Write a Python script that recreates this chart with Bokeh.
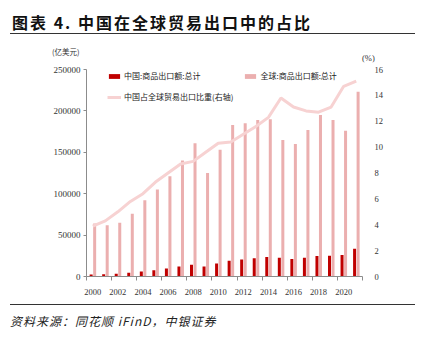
from bokeh.plotting import figure
from bokeh.models import (ColumnDataSource, Range1d, LinearAxis, FixedTicker,
                          Legend, LegendItem, NumeralTickFormatter, Div)
from bokeh.layouts import column
from bokeh.transform import dodge
from bokeh.embed import file_html
from bokeh.resources import INLINE

years = [str(y) for y in range(2000, 2022)]
china_exports = [2500, 2700, 3300, 4400, 5900, 7600, 9700, 12200, 14300, 12000, 15800,
                 19000, 20500, 22100, 23400, 22700, 21000, 22600, 24900, 25000, 25900, 33600]
world_exports = [64000, 61900, 64900, 75800, 92200, 105000, 121000, 140000, 161000, 125000, 153000,
                 183000, 185000, 189000, 190000, 165000, 160000, 177000, 195000, 189000, 176000, 223000]
china_share = [3.9, 4.3, 5.0, 5.8, 6.4, 7.3, 8.0, 8.7, 8.9, 9.6, 10.3,
               10.4, 11.0, 11.6, 12.3, 13.8, 13.1, 12.8, 12.7, 13.1, 14.7, 15.1]
left_ticks = [0, 50000, 100000, 150000, 200000, 250000]
right_ticks = [0, 2, 4, 6, 8, 10, 12, 14, 16]

title_text = "图表 4. 中国在全球贸易出口中的占比"
source_text = "资料来源：同花顺 iFinD，中银证券"
left_unit = "(亿美元)"
right_unit = "(%)"
labels = ["中国:商品出口额:总计", "全球:商品出口额:总计", "中国占全球贸易出口比重(右轴)"]

RED = "#C00000"
PINK = "#EBAFAF"
LINE = "#F7D2D2"
FONT = "Noto Sans CJK SC"
NUMF = "Liberation Serif"

idx = list(range(len(years)))
src = ColumnDataSource(dict(idx=idx, year=years, china=china_exports,
                            world=world_exports, share=china_share))

W = 425
TOP_H, PLOT_H, BOT_H = 62, 240, 37
FL, FR = 86, 362
FT, FB = 69 - TOP_H, 276 - TOP_H   # frame edges inside the figure

p = figure(width=W, height=PLOT_H, output_backend="svg", toolbar_location=None,
           x_range=Range1d(-0.5, len(years) - 0.5), y_range=Range1d(0, 250000),
           x_axis_type=None, min_border_left=FL, min_border_right=W - FR,
           min_border_top=FT, min_border_bottom=PLOT_H - FB, margin=0)
p.extra_y_ranges = {"pct": Range1d(0, 16)}
p.outline_line_color = None
p.grid.visible = False
p.background_fill_color = "white"
p.border_fill_color = "white"

r_cn = p.vbar(x=dodge("idx", -0.13), top="china", width=0.24, source=src,
              fill_color=RED, line_color=None)
r_w = p.vbar(x=dodge("idx", 0.15), top="world", width=0.24, source=src,
             fill_color=PINK, line_color=None)
r_l = p.line(x="idx", y="share", source=src, y_range_name="pct",
             line_color=LINE, line_width=3)

ya = p.yaxis[0]
ya.ticker = FixedTicker(ticks=left_ticks)
ya.formatter = NumeralTickFormatter(format="0")
ya.axis_line_color = "#8c8c8c"
ya.major_tick_line_color = "#8c8c8c"
ya.major_tick_in = 0
ya.major_tick_out = 3
ya.minor_tick_line_color = None
ya.major_label_text_font = NUMF
ya.major_label_text_font_size = "9px"
ya.major_label_text_color = "#333333"
ya.major_label_standoff = 3

ra = LinearAxis(y_range_name="pct", ticker=FixedTicker(ticks=right_ticks),
                axis_line_color=None, major_tick_line_color=None,
                minor_tick_line_color=None, major_label_text_font=NUMF,
                major_label_text_font_size="8.5px", major_label_text_color="#333333",
                major_label_standoff=6)
p.add_layout(ra, "right")

bticks = [i - 0.5 for i in range(0, len(years) + 1, 2)]
xa1 = LinearAxis(ticker=FixedTicker(ticks=bticks),
                 major_label_overrides={t: "" for t in bticks},
                 axis_line_color="#8c8c8c", major_tick_line_color="#8c8c8c",
                 major_tick_in=0, major_tick_out=4, minor_tick_line_color=None,
                 major_label_text_font_size="1px", major_label_standoff=0)
p.add_layout(xa1, "below")
lticks = list(range(0, len(years), 2))
xa2 = LinearAxis(ticker=FixedTicker(ticks=lticks),
                 major_label_overrides={i: years[i] for i in lticks},
                 axis_line_color=None, major_tick_line_color=None,
                 minor_tick_line_color=None, major_label_text_font=NUMF,
                 major_label_text_font_size="8.5px", major_label_text_color="#333333",
                 major_label_standoff=2)
p.add_layout(xa2, "below")

# column-major filling: column 1 = China bars + share line, column 2 = world bars
legend = Legend(items=[LegendItem(label=labels[0], renderers=[r_cn]),
                       LegendItem(label=labels[2], renderers=[r_l]),
                       LegendItem(label=labels[1], renderers=[r_w])],
                ncols=2, location=(21, (FB - FT) - 33), margin=0, padding=0,
                border_line_color=None, background_fill_alpha=0,
                label_text_font=FONT, label_text_font_size="8px",
                label_text_color="#222222", glyph_width=14, glyph_height=6,
                label_height=10, label_standoff=3, spacing=10)
p.add_layout(legend, "center")

top_html = (
    f'<div style="position:relative;width:{W}px;height:{TOP_H}px;font-family:\'{FONT}\';">'
    f'<div style="position:absolute;left:12px;top:12px;font-size:16px;font-weight:bold;'
    f'letter-spacing:2px;line-height:20px;color:#111;white-space:nowrap;">{title_text}</div>'
    f'<div style="position:absolute;left:10px;top:33px;width:405px;height:0;'
    f'border-top:1.5px solid #333;"></div>'
    f'<div style="position:absolute;left:52px;top:46px;font-size:7.5px;line-height:12px;'
    f'color:#333;white-space:nowrap;">{left_unit}</div>'
    f'<div style="position:absolute;left:362px;top:52px;font-family:\'{NUMF}\';font-size:8.5px;'
    f'line-height:12px;color:#333;white-space:nowrap;">{right_unit}</div>'
    '</div>')
bot_html = (
    f'<div style="position:relative;width:{W}px;height:{BOT_H}px;font-family:\'{FONT}\';">'
    f'<div style="position:absolute;left:10px;top:2px;width:405px;height:0;'
    f'border-top:1.5px solid #333;"></div>'
    f'<div style="position:absolute;left:10px;top:11px;font-size:12px;font-style:italic;'
    f'letter-spacing:1px;line-height:16px;color:#222;white-space:nowrap;">{source_text}</div>'
    '</div>')
top_div = Div(text=top_html, width=W, height=TOP_H, margin=0)
bot_div = Div(text=bot_html, width=W, height=BOT_H, margin=0)

layout = column(top_div, p, bot_div, spacing=0, margin=0)
open("out.html", "w").write(file_html(layout, INLINE))
